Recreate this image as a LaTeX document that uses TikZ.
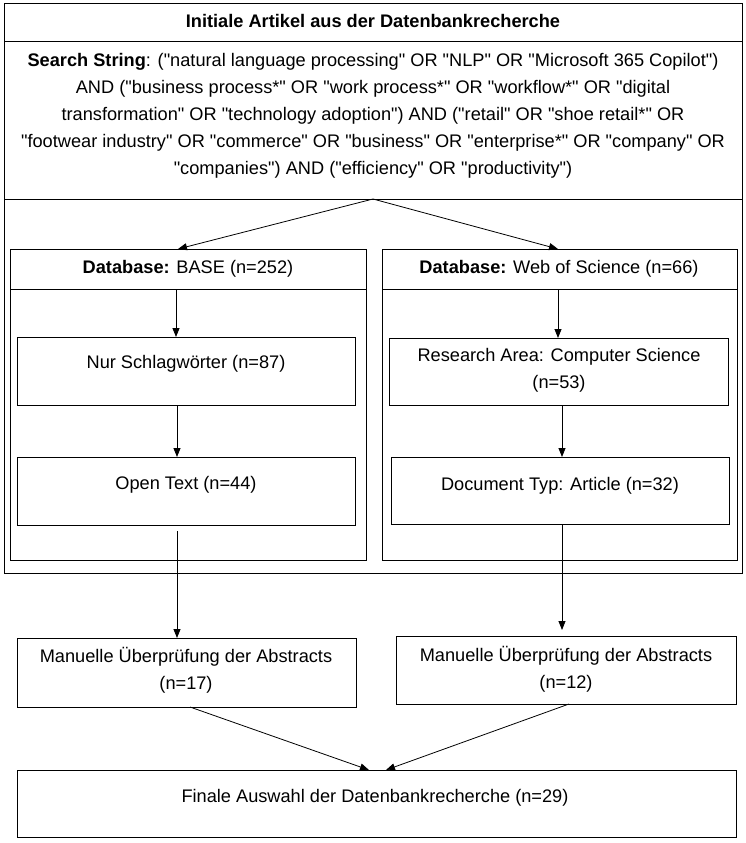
\documentclass[tikz,border=0pt]{standalone}
\usepackage{fontspec}
\setmainfont{Liberation Sans}[Ligatures=TeXOff]
\usetikzlibrary{arrows.meta}
\newcommand\bx[5]{\node[box, minimum width=#4pt, minimum height=#5pt] (#1) at (#2,#3) {};}
\begin{document}
\begin{tikzpicture}[x=1pt,y=-1pt,
  box/.style={draw, line width=0.8pt, inner sep=0pt, outer sep=0pt, anchor=north west},
  txt/.style={font=\fontsize{18.2}{27}\selectfont, align=center, inner sep=0pt},
  arr/.style={-{Triangle[length=9pt,width=7pt]}, line width=0.8pt}]
\useasboundingbox (0,0) rectangle (746,843);
% boxes
\bx{title}{4}{3}{738}{38}
\bx{search}{4}{41}{738}{158}
\bx{region}{4}{199}{738}{374}
\bx{dbL}{10}{249}{356}{311}
\bx{dbLhead}{10}{249}{356}{40}
\bx{dbR}{382}{249}{355}{311}
\bx{dbRhead}{382}{249}{355}{40}
\bx{nur}{17}{337}{338}{68}
\bx{ra}{389}{338}{339}{67}
\bx{ot}{17}{457}{338}{68}
\bx{dt}{391}{457}{338}{67}
\bx{mL}{17}{638}{339}{69}
\bx{mR}{396}{636}{340}{68}
\bx{fin}{17}{770}{719}{67}
% texts
\node[txt] (titletxt) at (373,21) {\textbf{Initiale Artikel aus der Datenbankrecherche}};
\node[txt] (searchtxt) at (373,116) {\textbf{Search String}: ("natural language processing" OR "NLP" OR "Microsoft 365 Copilot")\\
AND ("business process*" OR "work process*" OR "workflow*" OR "digital\\
transformation" OR "technology adoption") AND ("retail" OR "shoe retail*" OR\\
"footwear industry" OR "commerce" OR "business" OR "enterprise*" OR "company" OR\\
"companies") AND ("efficiency" OR "productivity")};
\node[txt] (dbLtxt) at (188,269) {\textbf{Database:} BASE (n=252)};
\node[txt] (dbRtxt) at (559,269) {\textbf{Database:} Web of Science (n=66)};
\node[txt] (nurtxt) at (186,364) {Nur Schlagwörter (n=87)};
\node[txt] (ratxt) at (559,370) {Research Area: Computer Science\\(n=53)};
\node[txt] (ottxt) at (186,485) {Open Text (n=44)};
\node[txt] (dttxt) at (560,486) {Document Typ: Article (n=32)};
\node[txt] (mLtxt) at (186,670) {Manuelle Überprüfung der Abstracts\\(n=17)};
\node[txt] (mRtxt) at (566,669) {Manuelle Überprüfung der Abstracts\\(n=12)};
\node[txt] (fintxt) at (375,798) {Finale Auswahl der Datenbankrecherche (n=29)};
% connectors
\draw[arr] (search.south) -- ([xshift=168pt]dbL.north west);
\draw[arr] (search.south) -- ([xshift=176pt]dbR.north west);
\draw[arr] ([xshift=166pt]dbLhead.south west) -- ([xshift=159pt]nur.north west);
\draw[arr] ([xshift=176pt]dbRhead.south west) -- ([xshift=169pt]ra.north west);
\draw[arr] ([xshift=160pt]nur.south west) -- ([xshift=160pt]ot.north west);
\draw[arr] ([xshift=173pt]ra.south west) -- ([xshift=171pt]dt.north west);
\draw[arr] ([xshift=160pt,yshift=-6pt]ot.south west) -- ([xshift=160pt]mL.north west);
\draw[arr] ([xshift=171pt,yshift=-1pt]dt.south west) -- ([xshift=166pt,yshift=6pt]mR.north west);
\draw[arr] ([xshift=173pt]mL.south west) -- ([xshift=352pt]fin.north west);
\draw[arr] ([xshift=173pt]mR.south west) -- ([xshift=369pt]fin.north west);
\end{tikzpicture}
\end{document}
